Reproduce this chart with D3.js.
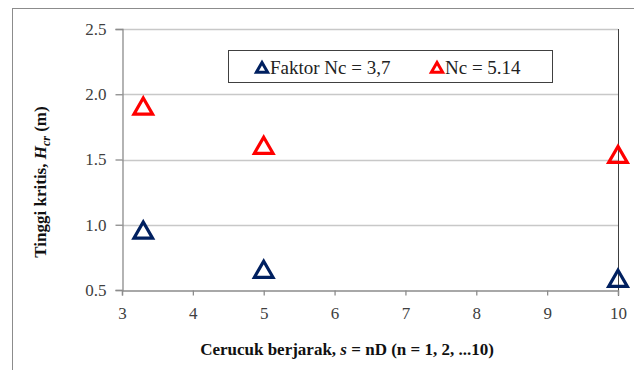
<!DOCTYPE html>
<html><head><meta charset="utf-8">
<script src="https://cdn.jsdelivr.net/npm/d3@7"></script>
</head><body style="margin:0">
<svg id="c" width="634" height="370" font-family="Liberation Serif" style="display:block;background:#fff"></svg>
<script>
const xTicks = [3,4,5,6,7,8,9,10];
const yTicks = [0.5,1.0,1.5,2.0,2.5];
const spacing = [3.3, 5, 10];
const seriesNames = ["Faktor Nc = 3,7", "Nc = 5.14"];
const seriesColors = ["#002060", "#ff0000"];
const faktor37 = [0.95, 0.65, 0.58];
const nc514 = [1.90, 1.60, 1.53];

const FONT = "Liberation Serif";
const svg = d3.select("#c");
const L = 122, R = 618, T = 29, B = 290;
const x = d3.scaleLinear().domain([3,10]).range([L,R]);
const y = d3.scaleLinear().domain([0.5,2.5]).range([B,T]);

// outer frame
svg.append("rect").attr("x",12.5).attr("y",8.5).attr("width",640).attr("height",380)
  .attr("fill","none").attr("stroke","#8c8c8c").attr("stroke-width",1);

// gridlines
svg.append("g").selectAll("line").data(yTicks.filter(d=>d>0.5)).join("line")
  .attr("x1",L).attr("x2",R).attr("y1",d=>Math.round(y(d))+0.5).attr("y2",d=>Math.round(y(d))+0.5)
  .attr("stroke","#c8c8c8").attr("stroke-width",1.3);

// right dark line
svg.append("line").attr("x1",R+0.5).attr("x2",R+0.5).attr("y1",T).attr("y2",B+6)
  .attr("stroke","#404040").attr("stroke-width",1);

// axes
const yAxis = d3.axisLeft(y).tickValues(yTicks).tickFormat(d3.format(".1f")).tickSize(7).tickPadding(9);
const gy = svg.append("g").attr("transform",`translate(${L+0.5},0)`).call(yAxis);
const xAxis = d3.axisBottom(x).tickValues(xTicks).tickFormat(d3.format("d")).tickSize(5).tickPadding(11);
const gx = svg.append("g").attr("transform",`translate(0,${B+0.5})`).call(xAxis);
[gx,gy].forEach(g=>{
  g.attr("font-family",FONT).attr("font-size",17);
  g.select(".domain").attr("stroke","#8c8c8c").attr("stroke-width",1.3);
  g.selectAll(".tick line").attr("stroke","#8c8c8c").attr("stroke-width",1.3);
  g.selectAll(".tick text").attr("font-family",FONT).attr("font-size",17).attr("fill","#404040");
});
gx.selectAll(".tick text").attr("dy","0.75em");

// markers
const tri = d3.symbol().type(d3.symbolTriangle).size(150);
function drawSeries(vals, color){
  svg.append("g").selectAll("path").data(vals).join("path")
    .attr("d", tri)
    .attr("transform",(d,i)=>`translate(${x(spacing[i])},${y(d)+1.5})`)
    .attr("fill","none").attr("stroke",color).attr("stroke-width",3.2)
    .attr("stroke-linejoin","miter");
}
drawSeries(faktor37, seriesColors[0]);
drawSeries(nc514, seriesColors[1]);

// legend
const lg = svg.append("g");
lg.append("rect").attr("x",228.5).attr("y",50.5).attr("width",324).attr("height",32)
  .attr("fill","#fff").attr("stroke","#404040").attr("stroke-width",1);
const smallTri = d3.symbol().type(d3.symbolTriangle).size(55);
[[262,270],[437,445]].forEach((p,i)=>{
  lg.append("path").attr("d",smallTri).attr("transform",`translate(${p[0]},${69})`)
    .attr("fill","none").attr("stroke",seriesColors[i]).attr("stroke-width",3);
  lg.append("text").attr("x",p[1]).attr("y",74).attr("font-family",FONT).attr("font-size",19)
    .attr("fill","#222").text(seriesNames[i]);
});

// x title
const xt = svg.append("text").attr("x",347).attr("y",355).attr("text-anchor","middle")
  .attr("font-family",FONT).attr("font-size",17).attr("font-weight","bold").attr("fill","#111");
xt.append("tspan").text("Cerucuk berjarak, ");
xt.append("tspan").attr("font-style","italic").text("s");
xt.append("tspan").text(" = nD (n = 1, 2, ...10)");

// y title
const yt = svg.append("text").attr("transform","translate(46,182) rotate(-90)").attr("text-anchor","middle")
  .attr("font-family",FONT).attr("font-size",17).attr("font-weight","bold").attr("fill","#111");
yt.append("tspan").text("Tinggi kritis, ");
yt.append("tspan").attr("font-style","italic").text("H");
yt.append("tspan").attr("font-style","italic").attr("font-size",12).attr("dy",4).text("cr");
yt.append("tspan").attr("dy",-4).text(" (m)");
</script></body></html>
